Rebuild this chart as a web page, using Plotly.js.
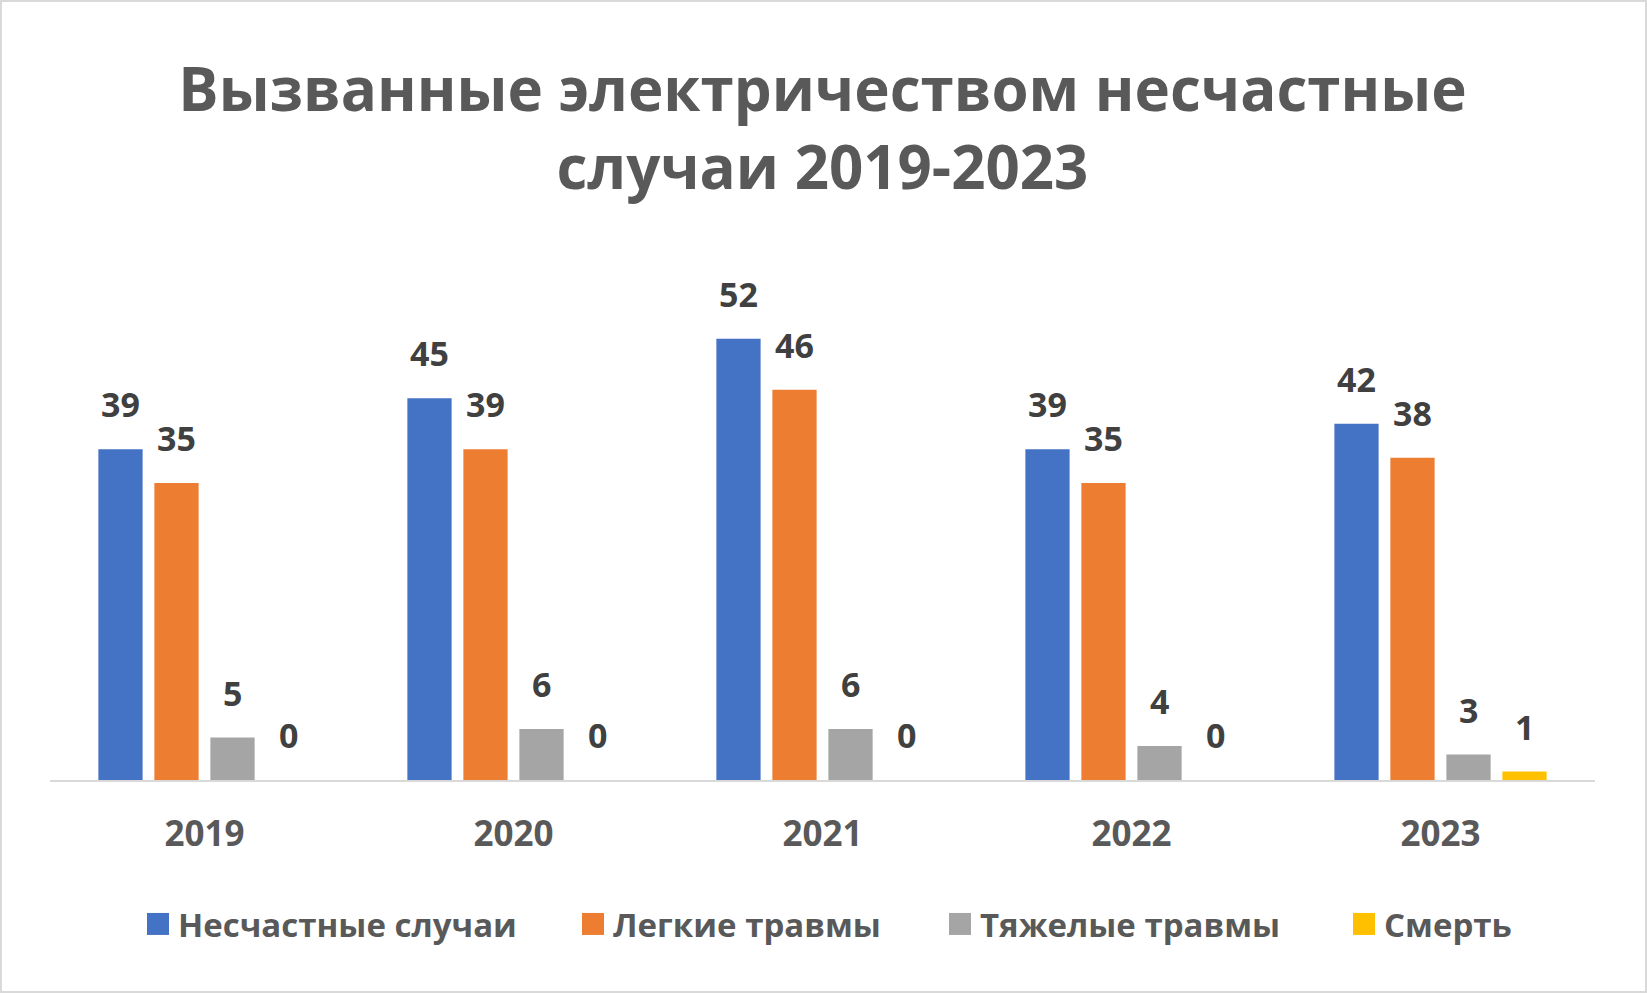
<!DOCTYPE html>
<html>
<head>
<meta charset="utf-8">
<script src="https://cdn.plot.ly/plotly-3.0.1.min.js"></script>
<style>
  html, body { margin: 0; padding: 0; background: #fff; }
  #chart {
    width: 1647px;
    height: 993px;
    box-sizing: border-box;
    border: 2px solid #d9d9d9;
  }
</style>
</head>
<body>
<div id="chart"></div>
<script>
// --- data ---
const years = ["2019", "2020", "2021", "2022", "2023"];
const seriesNames = ["Несчастные случаи", "Легкие травмы", "Тяжелые травмы", "Смерть"];
const accidents = [39, 45, 52, 39, 42];
const lightInjuries = [35, 39, 46, 35, 38];
const severeInjuries = [5, 6, 6, 4, 3];
const deaths = [0, 0, 0, 0, 1];
const seriesColors = ["#4472C4", "#ED7D31", "#A5A5A5", "#FFC000"];

const allSeries = [accidents, lightInjuries, severeInjuries, deaths];

// layout numbers
const W = 1643, H = 989;
const margin = { l: 48, r: 50, t: 269, b: 211 };
const bargap = 0.275;
const catWidth = (W - margin.l - margin.r) / years.length;
const slot = (catWidth * (1 - bargap)) / allSeries.length;
// left edge of each legend entry (px from the left), one legend per series
const legendLeft = [136, 571, 938, 1342];
const legendIds = ["legend", "legend2", "legend3", "legend4"];

const traces = allSeries.map((vals, i) => ({
  type: "bar",
  name: seriesNames[i],
  x: years,
  y: vals,
  marker: { color: seriesColors[i] },
  legend: legendIds[i],
  hoverinfo: "skip",
}));

// data labels sit well above the bars, like the Excel original
// (x given as category index, otherwise "2019" is read as position 2019)
const annotations = [];
allSeries.forEach((vals, i) => {
  vals.forEach((v, j) => {
    annotations.push({
      x: j,
      y: v,
      xref: "x",
      yref: "y",
      text: String(v),
      showarrow: false,
      xshift: (i - (allSeries.length - 1) / 2) * slot,
      yshift: 45,
      yanchor: "middle",
      font: { family: "Open Sans", size: 34, color: "#404040", weight: "bold" },
    });
  });
});

const layout = {
  width: W,
  height: H,
  margin: margin,
  title: {
    text: "Вызванные электричеством несчастные<br>случаи 2019-2023",
    font: { family: "Open Sans", size: 60, color: "#595959", weight: "bold" },
    x: 0.5,
    xanchor: "center",
    xref: "paper",
    y: 0.89,
    yref: "container",
    yanchor: "middle",
  },
  barmode: "group",
  bargap: bargap,
  bargroupgap: 0.21,
  xaxis: {
    type: "category",
    range: [-0.5, years.length - 0.5],
    showline: true,
    linecolor: "#d9d9d9",
    linewidth: 2,
    showgrid: false,
    zeroline: false,
    ticks: "",
    ticklabelstandoff: 22,
    tickfont: { family: "Open Sans", size: 35, color: "#595959", weight: "bold" },
  },
  yaxis: {
    range: [0, 60],
    visible: false,
    showgrid: false,
    zeroline: false,
  },
  showlegend: true,
  annotations: annotations,
  plot_bgcolor: "#ffffff",
  paper_bgcolor: "#ffffff",
};

legendIds.forEach((id, i) => {
  layout[id] = {
    orientation: "h",
    x: legendLeft[i] / W,
    xref: "container",
    xanchor: "left",
    y: 67 / H,
    yref: "container",
    yanchor: "middle",
    bgcolor: "rgba(0,0,0,0)",
    font: { family: "Open Sans", size: 33, color: "#595959", weight: "bold" },
  };
});

const config = { displayModeBar: false, staticPlot: true };

// bigger, square legend swatches like the original
function fixSwatches() {
  document.querySelectorAll("#chart .legendpoints path").forEach((p) => {
    p.setAttribute("d", "M11,11H-11V-11H11Z");
  });
}

Plotly.newPlot("chart", traces, layout, config).then((gd) => {
  fixSwatches();
  gd.on("plotly_afterplot", fixSwatches);
});
</script>
</body>
</html>
